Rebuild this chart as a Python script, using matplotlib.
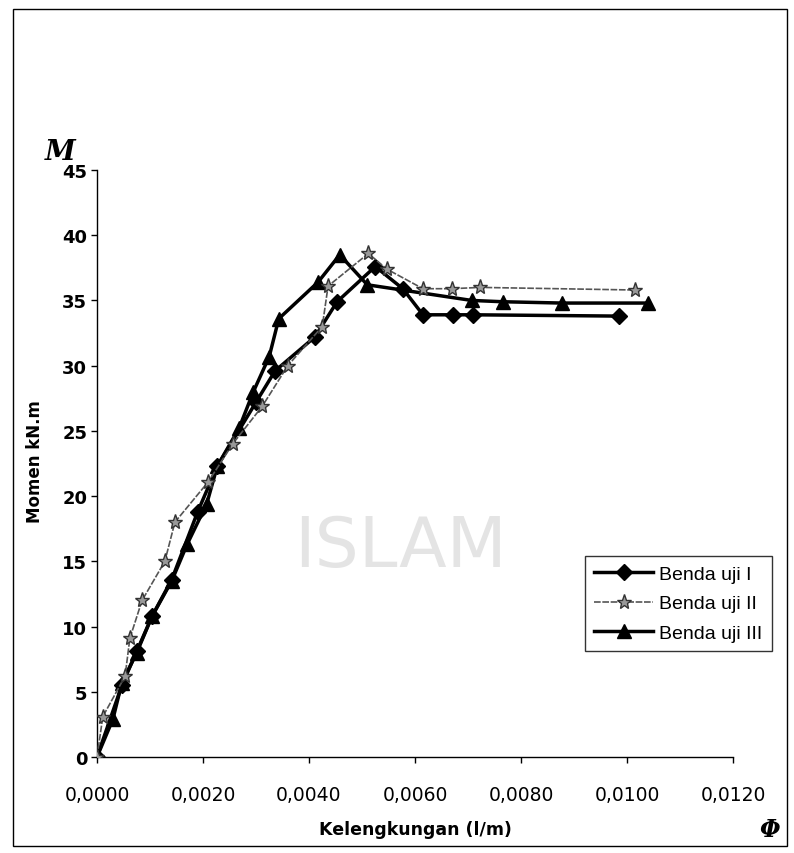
import matplotlib
matplotlib.use("Agg")
import matplotlib.pyplot as plt
from matplotlib.patches import Rectangle

# Data (curvature 1/m, moment kN.m)
phi_1 = [0.0, 0.00047, 0.00075, 0.00104, 0.00141, 0.0019, 0.00227, 0.0030, 0.00336,
         0.00411, 0.00453, 0.00525, 0.00577, 0.00615, 0.00672, 0.0071, 0.00985]
m_1 = [0.0, 5.5, 8.1, 10.8, 13.6, 18.8, 22.3, 27.2, 29.6,
       32.2, 34.9, 37.6, 35.9, 33.9, 33.9, 33.9, 33.8]

phi_2 = [0.0, 0.00011, 0.00053, 0.00062, 0.00085, 0.00128, 0.00147, 0.0021, 0.00256,
         0.00312, 0.0036, 0.00425, 0.00436, 0.00512, 0.00547, 0.00615, 0.0067, 0.00723, 0.01015]
m_2 = [0.0, 3.1, 6.2, 9.1, 12.0, 15.0, 18.0, 21.1, 24.0,
       26.9, 30.0, 33.0, 36.1, 38.6, 37.4, 35.9, 35.9, 36.0, 35.8]

phi_3 = [0.0, 0.0003, 0.00047, 0.00075, 0.00104, 0.00141, 0.0017, 0.00207, 0.00227,
         0.00268, 0.00295, 0.00325, 0.00343, 0.00417, 0.00458, 0.0051, 0.00707, 0.00766,
         0.00877, 0.0104]
m_3 = [0.0, 2.9, 5.7, 8.0, 10.8, 13.5, 16.3, 19.4, 22.3,
       25.2, 28.0, 30.7, 33.6, 36.4, 38.5, 36.2, 35.0, 34.9,
       34.8, 34.8]

labels = ["Benda uji I", "Benda uji II", "Benda uji III"]
x_ticks = [0.0, 0.002, 0.004, 0.006, 0.008, 0.010, 0.012]
x_tick_labels = ["0,0000", "0,0020", "0,0040", "0,0060", "0,0080", "0,0100", "0,0120"]
y_ticks = [0, 5, 10, 15, 20, 25, 30, 35, 40, 45]

W, H = 794, 854
fig = plt.figure(figsize=(W / 100, H / 100), dpi=100)
fig.patch.set_facecolor("white")

# outer border of the chart area
fig.patches.append(Rectangle((13 / W, 1 - 847 / H), (787 - 13) / W, (847 - 10) / H,
                             transform=fig.transFigure, fill=False, edgecolor="black",
                             linewidth=1.0))

# faint watermark
fig.text(400 / W, 1 - 548 / H, "ISLAM", fontsize=50, color="#e4e4e4",
         ha="center", va="center", zorder=0)

ax = fig.add_axes([97 / W, 1 - 758 / H, (733 - 97) / W, (758 - 171) / H])
ax.set_facecolor("none")

ax.plot(phi_1, m_1, color="black", linewidth=2.5, marker="D", markersize=8,
        label=labels[0], zorder=3)
ax.plot(phi_2, m_2, color="#555555", linewidth=1.2, linestyle=(0, (4, 1)), marker="*",
        markersize=11, markerfacecolor="#999999", markeredgecolor="#333333",
        label=labels[1], zorder=4)
ax.plot(phi_3, m_3, color="black", linewidth=2.5, marker="^", markersize=10,
        label=labels[2], zorder=3)

ax.set_xlim(0, 0.012)
ax.set_ylim(0, 45)
ax.set_xticks(x_ticks)
ax.set_xticklabels(x_tick_labels, fontsize=13.5, family="DejaVu Sans")
ax.set_yticks(y_ticks)
ax.set_yticklabels([str(v) for v in y_ticks], fontsize=13, fontweight="bold",
                   family="DejaVu Sans")
ax.tick_params(direction="out", length=4, width=1)
ax.tick_params(axis="x", pad=16)
ax.tick_params(axis="y", pad=3)
for s in ["top", "right"]:
    ax.spines[s].set_visible(False)
for s in ["left", "bottom"]:
    ax.spines[s].set_linewidth(1.0)

fig.text(415 / W, 1 - 830 / H, "Kelengkungan (l/m)", fontsize=12.5, fontweight="bold",
         ha="center", va="center", family="DejaVu Sans")
fig.text(35 / W, 1 - 462 / H, "Momen kN.m", fontsize=12, fontweight="bold",
         rotation=90, ha="center", va="center", family="DejaVu Sans")
fig.text(60 / W, 1 - 152 / H, "M", fontsize=20, fontweight="bold", style="italic",
         family="DejaVu Serif", ha="center", va="center")
fig.text(770 / W, 1 - 830 / H, "\u03a6", fontsize=17, fontweight="bold", style="italic",
         family="DejaVu Serif", ha="center", va="center")

leg = ax.legend(loc="upper left", bbox_to_anchor=((575 - 97) / (733 - 97), (758 - 547) / (758 - 171)),
                frameon=True, fancybox=False, edgecolor="black",
                prop={"family": "Liberation Sans", "size": 14},
                handlelength=3.0, borderpad=0.5, labelspacing=0.6, handletextpad=0.3)
leg.get_frame().set_linewidth(1.0)

fig.savefig("out.png", dpi=100)
